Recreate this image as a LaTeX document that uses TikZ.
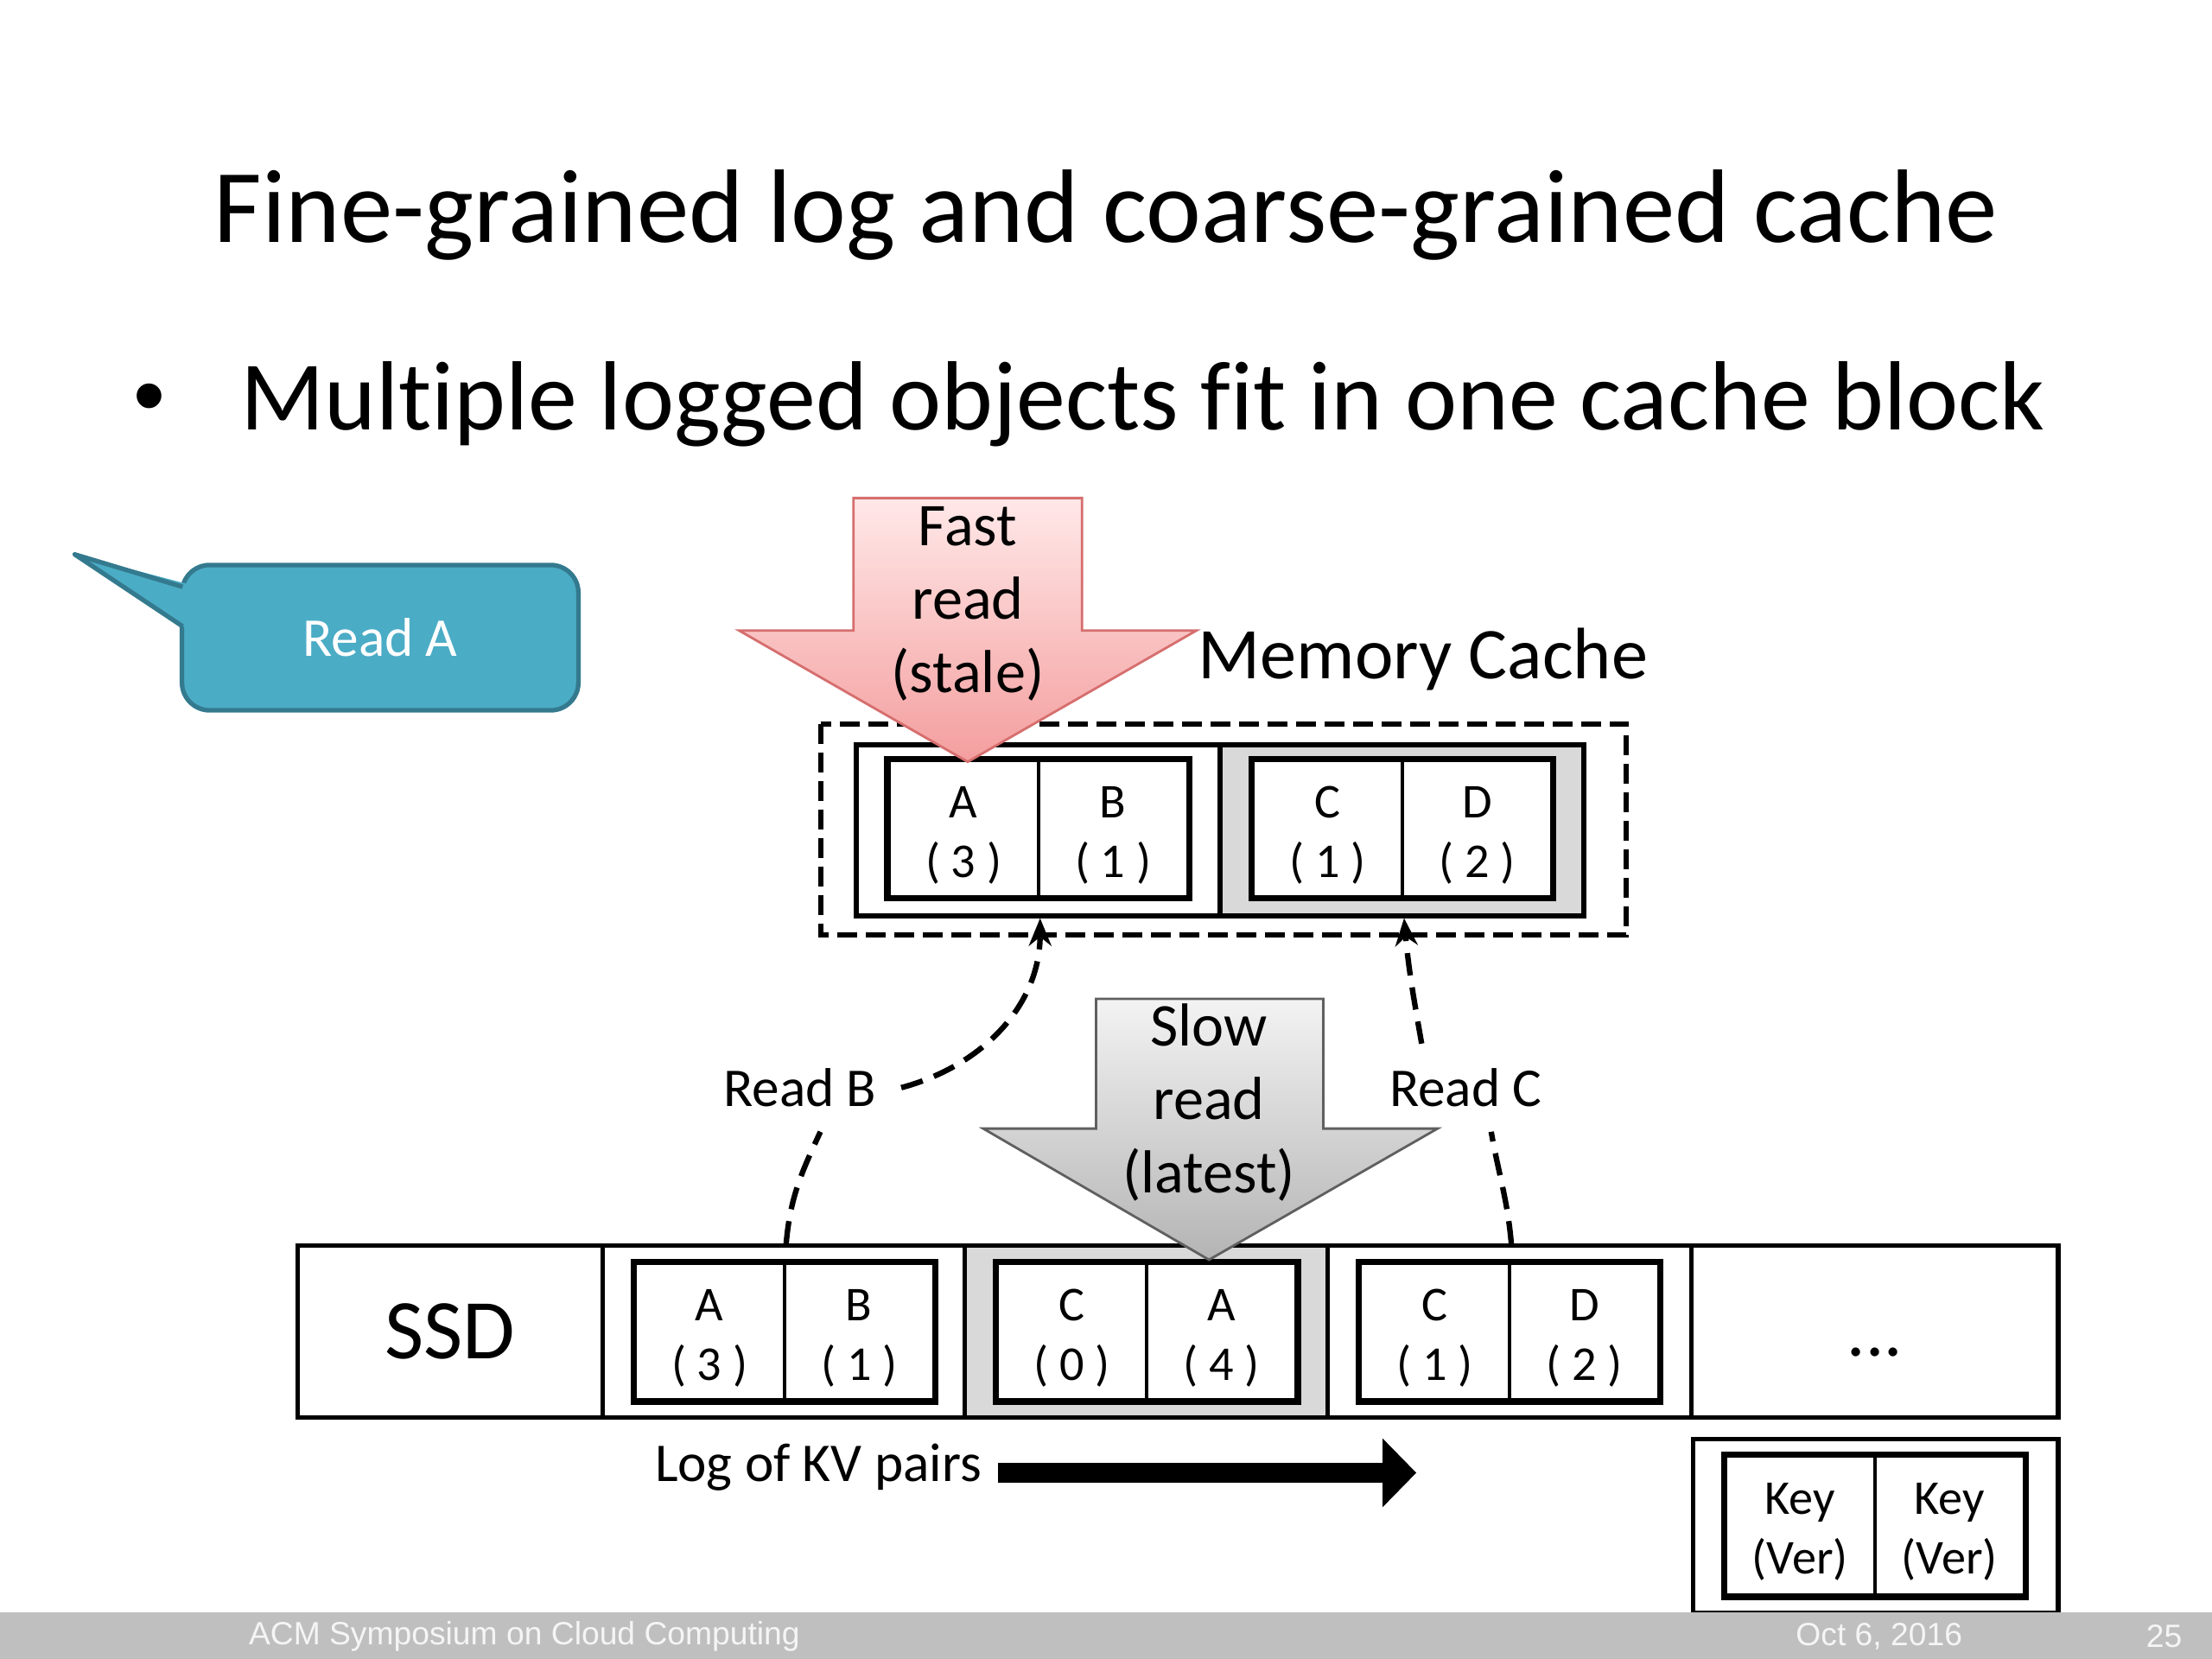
\documentclass[tikz,border=0pt]{standalone}
\usepackage{fontspec}
\setmainfont{Carlito}[Ligatures=NoCommon]
\newfontfamily\footfont{Liberation Sans}
\usetikzlibrary{arrows.meta}

\definecolor{calloutfill}{RGB}{75,172,198}
\definecolor{calloutline}{RGB}{52,122,142}
\definecolor{fastlight}{RGB}{255,232,232}
\definecolor{fastdark}{RGB}{244,158,158}
\definecolor{fastline}{RGB}{214,110,110}
\definecolor{slowlight}{RGB}{243,243,243}
\definecolor{slowdark}{RGB}{180,180,180}
\definecolor{slowline}{RGB}{95,95,95}
\definecolor{blockgray}{RGB}{217,217,217}
\definecolor{footgray}{RGB}{191,191,191}

\newcommand{\dpx}{0.163265mm}
\newcommand{\kv}[2]{\rule{0pt}{14.5pt}#1\\#2}

\tikzset{
    cell/.style={draw, line width=1.2pt, fill=white, inner sep=0pt, align=center,
        minimum width=106*\dpx, minimum height=97*\dpx, font=\fontsize{16}{19.6}\selectfont},
    group/.style={draw, line width=1.7pt},
    half/.style={draw, line width=1.7pt, inner sep=0pt, minimum width=258*\dpx, minimum height=121*\dpx},
    seg/.style={draw, line width=1.5pt, fill=white, inner sep=0pt, minimum height=122*\dpx},
    callout/.style={draw=calloutline, fill=calloutfill, line width=1.5pt, rounded corners=3.2mm,
        minimum width=281*\dpx, minimum height=103*\dpx, text=white, font=\fontsize{18}{22}\selectfont},
    arrowtext/.style={align=center, inner sep=0pt, font=\fontsize{20}{24.2}\selectfont},
    readlbl/.style={inner sep=8pt, font=\fontsize{18}{22}\selectfont},
    readline/.style={line width=1.8pt, dash pattern=on 2.6mm off 1.4mm},
    foot/.style={inner sep=0pt, text=white!96!black, font=\footfont\fontsize{10.6}{12}\selectfont}
}

\begin{document}
\begin{tikzpicture}[x=\dpx, y=-\dpx]
        \useasboundingbox (0,0) rectangle (1568,1176);
        \node[anchor=base, inner sep=0pt, font=\fontsize{34.4}{40}\selectfont] (title) at (784,172) {Fine-grained log and coarse-grained cache};
        \node[anchor=base, inner sep=0pt, font=\footfont\fontsize{30}{36}\selectfont] (dot) at (106,302) {•};
        \node[anchor=base west, inner sep=0pt, font=\fontsize{32.4}{38}\selectfont] (bullet) at (170,305) {Multiple logged objects fit in one cache block};

        \node[callout] (readA) at (269.5,452) {Read A};
        \fill[calloutfill] (133,414) -- (53,393) -- (133,446) -- cycle;
        \draw[calloutline, line width=1.5pt, line join=round] (129.5,416) -- (53,393) -- (129.5,444);

        \draw[line width=1.7pt, dash pattern=on 2.3mm off 1mm] (582,513) rectangle (1153,663);
        \node[half, fill=white] (memL) at (736,588.5) {};
        \node[half, fill=blockgray] (memR) at (994,588.5) {};
        \node[cell] (ma) at (683,587.5) {\kv{A}{( 3 )}};
        \node[cell] (mb) at (789,587.5) {\kv{B}{( 1 )}};
        \node[cell] (mc) at (941,587.5) {\kv{C}{( 1 )}};
        \node[cell] (md) at (1047,587.5) {\kv{D}{( 2 )}};
        \draw[group] (ma.north west) rectangle (mb.south east);
        \draw[group] (mc.north west) rectangle (md.south east);
        \node[anchor=base west, inner sep=0pt, font=\fontsize{24}{29}\selectfont] (memlbl) at (849,481) {Memory Cache};

        \node[seg, minimum width=216*\dpx, font=\fontsize{28}{34}\selectfont] (s1) at (319,944) {SSD};
        \node[seg, minimum width=257*\dpx] (s2) at (555.5,944) {};
        \node[seg, minimum width=257*\dpx, fill=blockgray] (s3) at (812.5,944) {};
        \node[seg, minimum width=258*\dpx] (s4) at (1070,944) {};
        \node[seg, minimum width=260*\dpx, text height=16pt, text depth=0pt, font=\fontsize{24}{29}\selectfont] (s5) at (1329,944) {...};
        \node[cell] (sa) at (503,944) {\kv{A}{( 3 )}};
        \node[cell] (sb) at (609,944) {\kv{B}{( 1 )}};
        \node[cell] (sc) at (760,944) {\kv{C}{( 0 )}};
        \node[cell] (sa2) at (866,944) {\kv{A}{( 4 )}};
        \node[cell] (sc2) at (1017,944) {\kv{C}{( 1 )}};
        \node[cell] (sd) at (1123,944) {\kv{D}{( 2 )}};
        \draw[group] (sa.north west) rectangle (sb.south east);
        \draw[group] (sc.north west) rectangle (sa2.south east);
        \draw[group] (sc2.north west) rectangle (sd.south east);

        \node[seg, minimum width=259*\dpx, minimum height=123*\dpx] (legend) at (1329.5,1081.5) {};
        \node[cell, minimum height=99*\dpx] (ka) at (1276,1081.5) {\kv{Key}{(Ver)}};
        \node[cell, minimum height=99*\dpx] (kb) at (1382,1081.5) {\kv{Key}{(Ver)}};
        \draw[group] (ka.north west) rectangle (kb.south east);

        \shadedraw[top color=fastlight, bottom color=fastdark, draw=fastline, line width=0.8pt]
            (605,353) -- (767,353) -- (767,447) -- (848,447) -- (686,540) -- (524,447) -- (605,447) -- cycle;
        \shadedraw[top color=slowlight, bottom color=slowdark, draw=slowline, line width=0.8pt]
            (777,708) -- (938,708) -- (938,800) -- (1019,800) -- (857,893) -- (697,800) -- (777,800) -- cycle;
        \node[arrowtext] (fastlbl) at (686,428) {Fast\\read\\(stale)};
        \node[arrowtext] (slowlbl) at (857,781.5) {Slow\\read\\(latest)};

        \node[readlbl] (readB) at (567,771) {Read B};
        \node[readlbl] (readC) at (1039,771) {Read C};
        \draw[readline] (sa.east |- s2.north) to[out=85, in=-115] (readB.-65);
        \draw[readline, -{Stealth[length=3.2mm, width=2.6mm]}] (readB.east) to[out=15, in=-90] (ma.south east |- memL.south);
        \draw[readline] (sc2.east |- s4.north) to[out=95, in=-80] (readC.-60);
        \draw[readline, -{Stealth[length=3.2mm, width=2.6mm]}] (readC.135) to[out=100, in=-85] (mc.south east |- memR.south);

        \node[font=\fontsize{18}{22}\selectfont] (logkv) at (580,1040) {Log of KV pairs};
        \coordinate (logend) at (1004,1044);
        \draw[line width=6.5pt, -{Triangle[length=3.9mm, width=7.7mm]}] ([xshift=4*\dpx]logkv.east |- logend) -- (logend);

        \fill[footgray] (0,1143) rectangle (1568,1176);
        \node[foot, anchor=west] (conf) at (176,1160) {ACM Symposium on Cloud Computing};
        \node[foot] (date) at (1332,1160) {Oct 6, 2016};
        \node[foot] (page) at (1534,1160) {25};
\end{tikzpicture}
\end{document}
